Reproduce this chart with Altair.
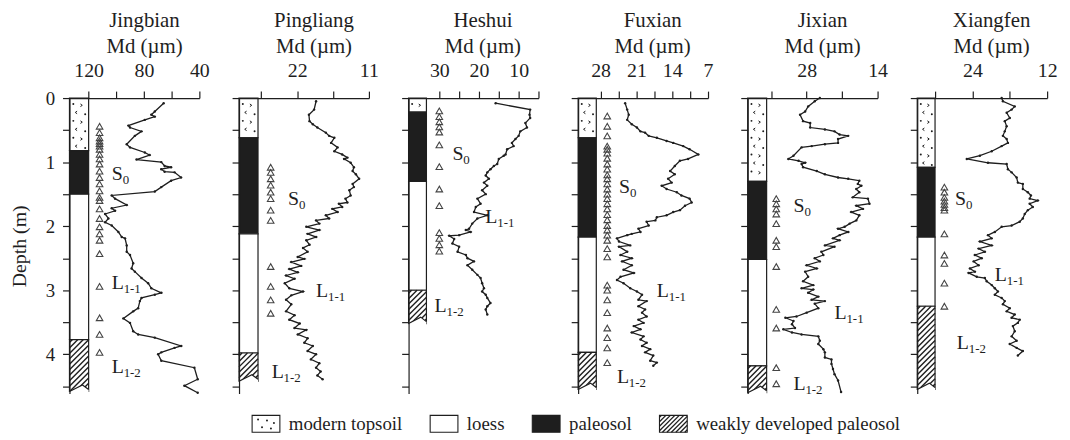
import altair as alt
import pandas as pd

FONT = "Liberation Serif"
INK = "#1e1e1e"
TRI = "#444444"

# ---------------- data ----------------
SITES = ["Jingbian", "Pingliang", "Heshui", "Fuxian", "Jixian", "Xiangfen"]
KINDS = ["modern topsoil", "paleosol", "loess", "weakly developed paleosol"]

jingbian_depth = [0.08,0.21,0.26,0.29,0.34,0.43,0.46,0.52,0.59,0.72,0.77,0.85,0.89,0.96,1.00,1.06,1.08,1.11,1.15,1.16,1.24,1.29,1.39,1.46,1.52,1.57,1.67,1.72,1.76,1.81,1.88,1.94,1.99,2.09,2.17,2.19,2.30,2.40,2.45,2.58,2.66,2.71,2.81,2.89,2.97,3.04,3.07,3.12,3.17,3.28,3.33,3.44,3.51,3.64,3.69,3.74,3.87,3.90,3.97,4.00,4.10,4.21,4.39,4.49,4.60]
jingbian_md = [65.8,72.2,74.7,72.2,79.4,91.3,90.1,81.8,86.6,92.5,90.1,79.4,75.9,85.4,67.5,65.1,60.4,67.5,65.1,57.9,53.2,60.4,67.5,72.2,103.3,100.9,92.5,103.3,100.9,108.1,105.7,108.1,103.3,98.5,96.1,93.7,92.5,92.5,90.1,87.8,89.0,86.6,81.8,77.0,74.7,67.5,72.2,81.8,83.0,84.2,87.8,94.9,90.1,87.8,84.2,72.2,53.2,57.9,67.5,69.8,67.5,43.6,41.2,50.8,41.2]

pingliang_depth = [0.05,0.18,0.26,0.36,0.41,0.46,0.54,0.59,0.62,0.70,0.77,0.83,0.88,0.93,0.95,1.01,1.08,1.14,1.19,1.26,1.34,1.39,1.44,1.52,1.57,1.63,1.65,1.70,1.73,1.78,1.83,1.88,1.91,1.96,2.01,2.06,2.12,2.17,2.22,2.29,2.34,2.40,2.48,2.51,2.56,2.62,2.67,2.72,2.77,2.82,2.89,2.97,3.02,3.08,3.15,3.22,3.33,3.39,3.46,3.52,3.59,3.62,3.69,3.75,3.82,3.87,3.95,4.00,4.08,4.14,4.21,4.27,4.33,4.39]
pingliang_md = [19.1,19.4,20.2,20.1,19.6,18.9,17.6,17.1,16.3,16.8,15.8,16.3,15.1,14.3,14.8,13.8,13.3,13.5,13.0,12.5,13.5,13.3,14.0,13.8,14.6,14.3,15.6,15.1,16.6,15.8,17.6,17.1,19.1,18.6,20.6,18.6,20.4,19.1,20.6,20.1,21.1,20.4,21.9,20.9,22.9,21.4,23.2,21.9,23.7,22.4,23.9,23.2,21.1,22.9,23.7,22.9,23.7,22.4,23.2,21.6,22.4,20.6,21.9,20.4,20.9,19.6,20.4,19.1,19.9,18.6,19.1,18.4,18.9,18.1]

heshui_depth = [0.08,0.18,0.26,0.31,0.39,0.46,0.52,0.59,0.64,0.70,0.75,0.80,0.88,0.90,0.95,1.03,1.06,1.11,1.16,1.21,1.26,1.32,1.37,1.44,1.50,1.57,1.65,1.70,1.78,1.83,1.88,1.96,2.04,2.06,2.09,2.14,2.15,2.20,2.27,2.32,2.40,2.45,2.50,2.55,2.61,2.68,2.76,2.81,2.89,2.97,3.02,3.07,3.12,3.20,3.25,3.30,3.38]
heshui_md = [15.8,7.1,7.25,7.1,8.3,7.9,9.6,10.0,10.8,11.7,11.25,12.9,13.3,13.75,15.0,15.4,16.25,17.1,17.9,18.3,17.5,18.75,17.9,19.2,18.3,20.4,19.6,20.8,21.25,17.9,20.4,21.7,22.5,23.3,22.1,25.0,27.5,26.25,26.7,25.0,25.4,23.3,22.9,21.25,22.9,21.7,20.4,19.6,19.2,18.75,19.2,18.3,17.9,17.1,17.9,18.3,17.9]

fuxian_depth = [0.08,0.18,0.26,0.34,0.41,0.46,0.52,0.54,0.59,0.62,0.67,0.70,0.75,0.80,0.88,0.95,0.98,1.06,1.14,1.19,1.26,1.32,1.37,1.42,1.47,1.52,1.57,1.63,1.68,1.75,1.78,1.83,1.86,1.91,1.93,1.99,2.04,2.09,2.12,2.14,2.19,2.24,2.30,2.32,2.40,2.45,2.50,2.55,2.61,2.68,2.73,2.79,2.84,2.89,2.97,3.02,3.07,3.15,3.17,3.25,3.30,3.35,3.41,3.46,3.51,3.56,3.61,3.66,3.72,3.77,3.82,3.87,3.92,3.97,4.02,4.10,4.13,4.18]
fuxian_md = [23.2,22.8,22.5,22.8,21.9,20.9,20.2,19.3,18.6,17.0,15.1,13.8,11.85,10.6,8.9,10.9,12.5,13.5,14.4,13.5,14.8,14.1,16.05,15.1,13.1,12.2,10.6,10.2,11.5,12.5,13.8,15.1,17.0,17.3,19.0,18.6,20.6,20.2,21.9,22.8,24.8,24.4,22.2,24.4,22.8,24.1,21.9,23.8,21.9,23.5,21.5,24.1,24.8,23.5,22.2,20.9,19.9,20.6,19.0,20.6,19.3,19.9,19.0,20.6,19.6,21.5,20.2,21.9,19.6,20.2,19.0,19.9,18.3,19.3,17.7,18.3,17.0,17.7]

jixian_depth = [0.0,0.05,0.13,0.21,0.26,0.36,0.39,0.46,0.49,0.52,0.57,0.59,0.64,0.70,0.72,0.75,0.77,0.90,0.95,0.98,1.01,1.03,1.08,1.14,1.19,1.24,1.26,1.29,1.34,1.37,1.42,1.47,1.55,1.57,1.65,1.68,1.73,1.78,1.83,1.91,1.96,2.01,2.04,2.09,2.14,2.19,2.22,2.30,2.32,2.40,2.45,2.50,2.55,2.61,2.66,2.71,2.79,2.86,2.92,2.97,2.99,3.04,3.10,3.15,3.17,3.21,3.28,3.35,3.41,3.43,3.48,3.53,3.59,3.61,3.66,3.69,3.72,3.79,3.84,3.92,3.97,4.05,4.08,4.15,4.23,4.31,4.41,4.59]
jixian_md = [25.4,26.4,27.7,28.3,29.3,28.7,27.3,27.3,24.4,22.5,21.5,19.8,21.8,21.8,24.4,27.0,29.0,30.6,31.6,29.6,28.3,29.0,28.7,26.0,24.4,21.8,19.8,17.6,17.9,17.2,18.2,17.6,18.9,15.9,15.6,18.2,16.9,19.2,17.6,18.2,19.5,20.5,21.8,19.8,21.5,22.8,21.5,24.4,22.5,25.1,24.7,26.4,25.4,28.0,26.0,28.3,27.7,28.7,26.7,29.0,26.7,27.7,25.7,27.0,24.4,26.4,25.7,28.0,30.0,32.2,30.6,30.9,30.3,32.6,30.9,29.0,25.7,25.4,25.7,24.7,24.4,24.4,23.1,23.1,22.8,22.5,21.8,21.2]

xiangfen_depth = [0.0,0.05,0.13,0.18,0.23,0.31,0.36,0.44,0.52,0.59,0.64,0.70,0.75,0.83,0.90,0.95,1.01,1.03,1.11,1.16,1.24,1.32,1.34,1.42,1.47,1.52,1.57,1.60,1.65,1.70,1.75,1.81,1.88,1.93,1.99,2.01,2.09,2.14,2.19,2.24,2.30,2.35,2.40,2.45,2.50,2.55,2.61,2.66,2.71,2.73,2.79,2.81,2.86,2.92,2.97,3.02,3.07,3.12,3.17,3.22,3.28,3.33,3.38,3.43,3.46,3.51,3.56,3.64,3.72,3.79,3.84,3.90,3.95,4.02]
xiangfen_md = [19.3,19.1,17.2,17.7,18.5,18.0,18.8,18.5,18.8,19.1,18.5,18.3,19.3,20.9,22.8,24.9,21.5,18.5,18.3,17.7,16.9,16.7,15.9,15.9,15.1,14.6,14.8,13.5,14.8,14.3,15.1,15.6,15.9,16.4,17.7,19.3,20.4,21.5,20.9,22.8,20.9,23.0,22.0,23.6,22.5,23.8,23.0,24.4,23.6,24.6,23.3,22.0,21.7,20.9,20.4,19.9,20.4,19.3,18.8,19.1,18.0,18.5,17.2,17.7,16.4,16.7,17.5,17.2,17.7,16.9,18.0,16.9,15.9,16.7]

# sample (triangle) depths
jingbian_samples = [0.44,0.54,0.62,0.67,0.71,0.75,0.80,0.88,0.95,1.03,1.14,1.24,1.34,1.45,1.55,1.60,1.73,1.88,2.01,2.12,2.22,2.43,2.94,3.43,3.69,3.97]
pingliang_samples = [1.08,1.16,1.26,1.36,1.47,1.57,1.75,1.91,2.63,2.94,3.15,3.36]
heshui_samples = [0.20,0.29,0.37,0.45,0.53,0.73,1.07,1.42,1.68,2.10,2.19,2.29,2.39]
fuxian_samples = [0.28,0.44,0.59,0.75,0.80,0.86,0.94,1.03,1.11,1.20,1.26,1.34,1.42,1.50,1.57,1.65,1.73,1.82,1.90,1.99,2.06,2.14,2.22,2.35,2.48,2.92,3.00,3.15,3.35,3.59,3.74,3.90,4.13]
jixian_samples = [1.57,1.65,1.73,1.81,1.96,2.22,2.32,2.63,3.30,3.59,4.21,4.46]
xiangfen_samples = [1.39,1.47,1.55,1.61,1.66,1.71,1.75,2.12,2.45,2.58,2.89,3.25]

# stratigraphic boundaries (top of each unit in KINDS order, then base of column)
jingbian_bounds = [0.0, 0.82, 1.50, 3.77, 4.58]
pingliang_bounds = [0.0, 0.62, 2.12, 3.98, 4.42]
heshui_bounds = [0.0, 0.22, 1.30, 3.00, 3.52]
fuxian_bounds = [0.0, 0.62, 2.17, 3.97, 4.55]
jixian_bounds = [0.0, 1.30, 2.52, 4.18, 4.60]
xiangfen_bounds = [0.0, 1.08, 2.17, 3.25, 4.55]

# unit labels: (letter, subscript, Md at left edge, depth)
jingbian_units = [("S", "0", 103.3, 1.19), ("L", "1-1", 103.3, 2.89), ("L", "1-2", 103.3, 4.20)]
pingliang_units = [("S", "0", 23.4, 1.57), ("L", "1-1", 19.1, 3.02), ("L", "1-2", 25.9, 4.28)]
heshui_units = [("S", "0", 26.7, 0.88), ("L", "1-1", 18.4, 1.86), ("L", "1-2", 31.2, 3.25)]
fuxian_units = [("S", "0", 24.4, 1.39), ("L", "1-1", 17.0, 3.02), ("L", "1-2", 24.8, 4.36)]
jixian_units = [("S", "0", 30.6, 1.68), ("L", "1-1", 22.5, 3.35), ("L", "1-2", 30.6, 4.46)]
xiangfen_units = [("S", "0", 26.8, 1.57), ("L", "1-1", 20.4, 2.76), ("L", "1-2", 26.5, 3.82)]

# axis ticks / labels (Md, reversed axes)
jingbian_ticks, jingbian_labels = [120, 100, 80, 60, 40], [120, 80, 40]
pingliang_ticks, pingliang_labels = [27.5, 22, 16.5, 11], [22, 11]
heshui_ticks, heshui_labels = [30, 25, 20, 15, 10, 5], [30, 20, 10]
fuxian_ticks, fuxian_labels = [28, 24.5, 21, 17.5, 14, 10.5, 7], [28, 21, 14, 7]
jixian_ticks, jixian_labels = [35, 28, 21, 14], [28, 14]
xiangfen_ticks, xiangfen_labels = [30, 24, 18, 12], [24, 12]
DEPTH_TICKS = [0, 0.5, 1, 1.5, 2, 2.5, 3, 3.5, 4, 4.5]

DATA = {
    "Jingbian": (jingbian_depth, jingbian_md, jingbian_samples, jingbian_bounds, jingbian_units, jingbian_ticks, jingbian_labels),
    "Pingliang": (pingliang_depth, pingliang_md, pingliang_samples, pingliang_bounds, pingliang_units, pingliang_ticks, pingliang_labels),
    "Heshui": (heshui_depth, heshui_md, heshui_samples, heshui_bounds, heshui_units, heshui_ticks, heshui_labels),
    "Fuxian": (fuxian_depth, fuxian_md, fuxian_samples, fuxian_bounds, fuxian_units, fuxian_ticks, fuxian_labels),
    "Jixian": (jixian_depth, jixian_md, jixian_samples, jixian_bounds, jixian_units, jixian_ticks, jixian_labels),
    "Xiangfen": (xiangfen_depth, xiangfen_md, xiangfen_samples, xiangfen_bounds, xiangfen_units, xiangfen_ticks, xiangfen_labels),
}

# ---------------- layout (scales / geometry) ----------------
PXM = 64.6          # px per metre of depth
H = 298
DMAX = H / PXM
W = 131
GAP = 40
GEOM = {
    "Jingbian": dict(left=133.84, right=40, col=120, tri=112.1),
    "Pingliang": dict(left=30.91, right=11, col=28.0, tri=26.06),
    "Heshui": dict(left=37.75, right=5, col=33.25, tri=30.0),
    "Fuxian": dict(left=32.39, right=7, col=28.84, tri=26.7),
    "Jixian": dict(left=39.64, right=14, col=35.9, tri=34.0),
    "Xiangfen": dict(left=32.86, right=12, col=30.0, tri=28.5),
}

CHEVRON_R = "M-0.5,-0.7L0.5,0L-0.5,0.7"
CHEVRON_L = "M0.5,-0.7L-0.5,0L0.5,0.7"
AX = dict(labelFont=FONT, titleFont=FONT, labelColor=INK, titleColor=INK,
          domainColor=INK, tickColor=INK, domainWidth=1.2, tickWidth=1.2, grid=False, zindex=1)


def panel(site, first):
    depth, md, samples, bounds, units, ticks, labels = DATA[site]
    assert len(depth) == len(md)
    g = GEOM[site]
    left, right, col = g["left"], g["right"], g["col"]
    k = W / (left - right)              # px per Md unit
    cw = (left - col) * k               # column width in px
    to_md = lambda px: left - px / k

    xs = alt.Scale(domain=[left, right], nice=False, zero=False)
    ys = alt.Scale(domain=[0, DMAX], reverse=True, nice=False, zero=False)

    lab_expr = "indexof(%s, datum.value) >= 0 ? format(datum.value, 'd') : ''" % str(labels)
    xtitle = [site, "Md (\u00b5m)"]
    x_axis = alt.Axis(orient="top", values=ticks, labelExpr=lab_expr,
                      titleFontSize=21, titleFontWeight="normal",
                      titleLineHeight=26, titleX=(cw + W) / 2, titleY=-72,
                      titleBaseline="alphabetic", titleAlign="center",
                      labelFontSize=20, labelPadding=15, labelBaseline="alphabetic",
                      tickSize=7, labelFlush=False, labelOverlap=False, **AX)
    if first:
        y_axis = alt.Axis(values=DEPTH_TICKS,
                          labelExpr="datum.value % 1 == 0 ? format(datum.value, 'd') : ''",
                          labelFontSize=19, labelPadding=8, tickSize=7, titleFontSize=20,
                          titleFontWeight="normal", titleX=-50, titleBaseline="middle", **AX)
        ytitle = "Depth (m)"
    else:
        y_axis = alt.Axis(values=DEPTH_TICKS, labels=False, tickSize=7, **AX)
        ytitle = ""

    def X(f):
        return alt.X(f, scale=xs, axis=x_axis, title=xtitle)

    def Y(f):
        return alt.Y(f, scale=ys, axis=y_axis, title=ytitle)

    strata = pd.DataFrame({
        "kind": KINDS,
        "top": bounds[:-1],
        "bottom": bounds[1:],
        "x0": left,
        "x1": col,
    })
    base_rect = alt.Chart(strata).mark_rect(stroke=INK, strokeWidth=1.2).encode(
        x=X("x0:Q"), x2="x1:Q", y=Y("top:Q"), y2="bottom:Q",
        fill=alt.Fill("kind:N", scale=alt.Scale(domain=KINDS, range=["white", INK, "white", "white"]), legend=None),
    )

    # topsoil texture
    t0, t1 = bounds[0], bounds[1]
    dots, chev = [], []
    i = 0
    yy = t0 * PXM + 6
    while yy < t1 * PXM - 3:
        if i % 2 == 0:
            dots.append((to_md(0.2 * cw), yy / PXM))
            chev.append((to_md(0.62 * cw), yy / PXM + 0.02, "r"))
        else:
            chev.append((to_md(0.35 * cw), yy / PXM, "l"))
            dots.append((to_md(0.82 * cw), yy / PXM + 0.03))
        yy += 8.5
        i += 1
    dots_df = pd.DataFrame(dots, columns=["md", "depth"])
    chev_df = pd.DataFrame(chev, columns=["md", "depth", "dir"])
    dot_layer = alt.Chart(dots_df).mark_circle(size=4, color=INK, opacity=1).encode(
        x=X("md:Q"), y=Y("depth:Q"))
    chev_r = alt.Chart(chev_df[chev_df["dir"] == "r"]).mark_point(
        shape=CHEVRON_R, size=14, filled=False, color=INK, strokeWidth=1, opacity=1).encode(
        x=X("md:Q"), y=Y("depth:Q"))
    chev_l = alt.Chart(chev_df[chev_df["dir"] == "l"]).mark_point(
        shape=CHEVRON_L, size=14, filled=False, color=INK, strokeWidth=1, opacity=1).encode(
        x=X("md:Q"), y=Y("depth:Q"))

    # hatching of weakly developed paleosol
    h0, h1 = bounds[3] * PXM, bounds[4] * PXM
    segs = []
    c = h0 + 3
    while c < h1 + cw:
        xa = max(0.0, c - h1)
        xb = min(cw, c - h0)
        if xb - xa > 0.5:
            segs.append((to_md(xa), (c - xa) / PXM, to_md(xb), (c - xb) / PXM))
        c += 5.5
    hatch_df = pd.DataFrame(segs, columns=["xa", "ya", "xb", "yb"])
    hatch = alt.Chart(hatch_df).mark_rule(color=INK, strokeWidth=1.4).encode(
        x=X("xa:Q"), y=Y("ya:Q"), x2="xb:Q", y2="yb:Q")

    # broken base of the column
    b = bounds[4]
    zig = pd.DataFrame({
        "md": [to_md(0), to_md(0.68 * cw), to_md(cw)],
        "depth": [b, b - 0.10, b - 0.03],
        "low": [b + 0.03, b + 0.03, b + 0.03],
        "o": [0, 1, 2],
    })
    eraser = alt.Chart(zig).mark_area(color="white", orient="vertical", opacity=1).encode(
        x=X("md:Q"), y=Y("depth:Q"), y2="low:Q")
    zigline = alt.Chart(zig).mark_line(color=INK, strokeWidth=1.2).encode(
        x=X("md:Q"), y=Y("depth:Q"), order="o:Q")

    # sample triangles
    tri_df = pd.DataFrame({"depth": samples, "md": g["tri"]})
    tri = alt.Chart(tri_df).mark_point(shape="triangle-up", filled=False, size=44, color=TRI,
                                       strokeWidth=1.1, opacity=1).encode(
        x=X("md:Q"), y=Y("depth:Q"))

    # Md curve
    line_df = pd.DataFrame({"depth": depth, "md": md, "i": range(len(depth))})
    curve = alt.Chart(line_df).mark_line(
        color=INK, strokeWidth=1.3,
        point=alt.OverlayMarkDef(filled=True, size=6, color=INK, opacity=1)).encode(
        x=X("md:Q"), y=Y("depth:Q"), order="i:Q")

    # unit labels with subscripts
    u_df = pd.DataFrame(units, columns=["main", "sub", "md", "depth"])
    main_txt = alt.Chart(u_df).mark_text(align="left", baseline="middle", fontSize=20,
                                         font=FONT, color=INK).encode(
        x=X("md:Q"), y=Y("depth:Q"), text="main:N")
    s_df = u_df[u_df["main"] == "S"]
    l_df = u_df[u_df["main"] == "L"]
    sub_s = alt.Chart(s_df).mark_text(align="left", baseline="middle", fontSize=13, font=FONT,
                                      color=INK, dx=11, dy=6).encode(
        x=X("md:Q"), y=Y("depth:Q"), text="sub:N")
    sub_l = alt.Chart(l_df).mark_text(align="left", baseline="middle", fontSize=13, font=FONT,
                                      color=INK, dx=12, dy=6).encode(
        x=X("md:Q"), y=Y("depth:Q"), text="sub:N")

    return alt.layer(base_rect, dot_layer, chev_r, chev_l, hatch, eraser, zigline,
                     tri, curve, main_txt, sub_s, sub_l).properties(width=W, height=H)


panels = [panel(s, i == 0) for i, s in enumerate(SITES)]
top = alt.hconcat(*panels, spacing=GAP, bounds="flush")

# ---------------- legend ----------------
LEFT0 = 70          # page x of the legend's origin (= left edge of first panel)
CENTER = 581        # page x of the legend centre
LW = 986
LH = 17
EM = {"modern topsoil": 6.03, "loess": 2.0, "paleosol": 3.33, "weakly developed paleosol": 10.83}
LFS = 19
BOX, TGAP, IGAP = 28, 9, 28
order = ["modern topsoil", "loess", "paleosol", "weakly developed paleosol"]
total = sum(BOX + TGAP + EM[n] * LFS for n in order) + IGAP * 3
xpos = CENTER - LEFT0 - total / 2
rows = []
for n in order:
    rows.append(dict(kind=n, x0=xpos, x1=xpos + BOX, tx=xpos + BOX + TGAP))
    xpos += BOX + TGAP + EM[n] * LFS + IGAP
leg_df = pd.DataFrame(rows)
lxs = alt.Scale(domain=[0, LW], nice=False, zero=False)
lys = alt.Scale(domain=[0, 1], nice=False, zero=False)
leg_df["y0"] = 0.0
leg_df["y1"] = 1.0
leg_df["ym"] = 0.5
leg_box = alt.Chart(leg_df).mark_rect(stroke=INK, strokeWidth=1.1).encode(
    x=alt.X("x0:Q", scale=lxs, axis=None), x2="x1:Q",
    y=alt.Y("y0:Q", scale=lys, axis=None), y2="y1:Q",
    fill=alt.Fill("kind:N", scale=alt.Scale(domain=order, range=["white", "white", INK, "white"]), legend=None))
leg_txt = alt.Chart(leg_df).mark_text(align="left", baseline="middle", fontSize=LFS, font=FONT,
                                      color=INK).encode(
    x=alt.X("tx:Q", scale=lxs, axis=None), y=alt.Y("ym:Q", scale=lys, axis=None), text="kind:N")
hb = rows[3]
lsegs = []
c = 2
while c < LH + BOX:
    xa = max(0.0, c - LH)
    xb = min(BOX, c)
    if xb - xa > 0.5:
        lsegs.append((hb["x0"] + xa, 1 - (c - xa) / LH, hb["x0"] + xb, 1 - (c - xb) / LH))
    c += 4.5
lh_df = pd.DataFrame(lsegs, columns=["xa", "ya", "xb", "yb"])
leg_hatch = alt.Chart(lh_df).mark_rule(color=INK, strokeWidth=1.3).encode(
    x=alt.X("xa:Q", scale=lxs, axis=None), y=alt.Y("ya:Q", scale=lys, axis=None), x2="xb:Q", y2="yb:Q")
tb = rows[0]
ltex = pd.DataFrame({"x": [tb["x0"] + 6, tb["x0"] + 15, tb["x0"] + 22, tb["x0"] + 10, tb["x0"] + 19],
                     "y": [0.75, 0.7, 0.55, 0.3, 0.22]})
leg_tex = alt.Chart(ltex).mark_circle(size=4, color=INK, opacity=1).encode(
    x=alt.X("x:Q", scale=lxs, axis=None), y=alt.Y("y:Q", scale=lys, axis=None))
legend = alt.layer(leg_box, leg_hatch, leg_tex, leg_txt).properties(width=LW, height=LH)

chart = alt.vconcat(top, legend, spacing=17).properties(
    padding={"left": 2, "top": 0, "right": 5, "bottom": 2}
).configure_view(stroke=None)

chart.save("out.html", embed_options={"renderer": "svg", "actions": False})
